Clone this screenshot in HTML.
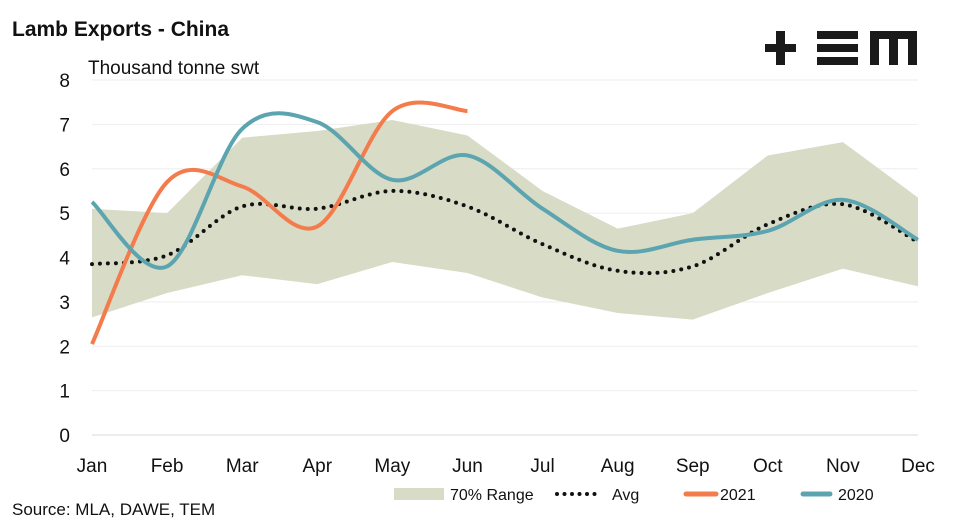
<!DOCTYPE html>
<html><head><meta charset="utf-8"><style>
body{margin:0;background:#fff;font-family:"Liberation Sans",sans-serif;}
svg text{font-family:"Liberation Sans",sans-serif;fill:#111;}
</style></head><body>
<svg id="c" width="954" height="527">
<text x="12" y="36" font-size="21" font-weight="bold">Lamb Exports - China</text>
<text x="88" y="74" font-size="19">Thousand tonne swt</text>
<text x="12" y="515" font-size="17">Source: MLA, DAWE, TEM</text>
<g fill="#1a1a1a">
<rect x="765" y="44" width="31" height="8"/><rect x="776" y="31" width="9" height="34"/>
<rect x="817" y="31" width="41" height="8"/><rect x="817" y="44" width="41" height="8"/><rect x="817" y="57" width="41" height="8"/>
<rect x="870" y="31" width="47" height="8"/><rect x="870" y="31" width="9" height="34"/><rect x="889" y="31" width="9" height="34"/><rect x="908" y="31" width="9" height="34"/>
</g>
<g id="grid"></g><g id="marks"></g><g id="axes"></g>
<g>
<rect x="394" y="488" width="50" height="12" fill="#d8dbc5"/>
<text x="450" y="500" font-size="16">70% Range</text>
<line x1="557" y1="494" x2="602" y2="494" stroke="#111" stroke-width="4" stroke-dasharray="0 7.5" stroke-linecap="round"/>
<text x="612" y="500" font-size="16">Avg</text>
<line x1="686" y1="494" x2="716" y2="494" stroke="#f47c4c" stroke-width="5" stroke-linecap="round"/>
<text x="720" y="500" font-size="16">2021</text>
<line x1="803" y1="494" x2="830" y2="494" stroke="#5ba4b0" stroke-width="5" stroke-linecap="round"/>
<text x="838" y="500" font-size="16">2020</text>
</g>
</svg>
<script>
const months=["Jan","Feb","Mar","Apr","May","Jun","Jul","Aug","Sep","Oct","Nov","Dec"];
const yTicks=[0,1,2,3,4,5,6,7,8];
const rangeHigh=[5.1,5.0,6.7,6.85,7.1,6.75,5.5,4.65,5.0,6.3,6.6,5.35];
const rangeLow=[2.65,3.2,3.6,3.4,3.9,3.65,3.1,2.75,2.6,3.2,3.75,3.35];
const avg=[3.85,4.05,5.15,5.1,5.5,5.15,4.3,3.7,3.8,4.75,5.2,4.35];
const y2021=[2.05,5.7,5.6,4.7,7.3,7.3];
const y2020=[5.25,3.8,6.9,7.05,5.75,6.3,5.1,4.15,4.4,4.6,5.3,4.4];
const NS="http://www.w3.org/2000/svg";
const X=i=>92+i*(918-92)/11, Y=v=>435-v*(435-80)/8;
function mk(t,a,p){const e=document.createElementNS(NS,t);for(const k in a)e.setAttribute(k,a[k]);p.appendChild(e);return e;}
const grid=document.getElementById('grid'),marks=document.getElementById('marks'),axes=document.getElementById('axes');
yTicks.forEach(v=>{
 if(v>0){const g=mk('line',{x1:92,x2:918,y1:Y(v),y2:Y(v),stroke:'#eeeeee','stroke-width':1},grid);
 
 }
 const t=mk('text',{x:70,y:Y(v)+7,'font-size':19,'text-anchor':'end'},axes);t.textContent=v;
 
 
});
const base=mk('line',{x1:92,x2:918,y1:Y(0),y2:Y(0),stroke:'#d9d9d9'},axes);


months.forEach((m,i)=>{const t=mk('text',{x:X(i),y:472,'font-size':19,'text-anchor':'middle'},axes);t.textContent=m;
 
 });
let pts=rangeHigh.map((v,i)=>X(i)+','+Y(v)).concat(rangeLow.map((v,i)=>[i,v]).reverse().map(([i,v])=>X(i)+','+Y(v)));
const band=mk('polygon',{points:pts.join(' '),fill:'#d8dbc5'},marks);


function smooth(arr){const p=arr.map((v,i)=>[X(i),Y(v)]);let d='M'+p[0];
 for(let i=0;i<p.length-1;i++){const p0=p[i-1]||p[i],p1=p[i],p2=p[i+1],p3=p[i+2]||p2;
 const c1=[p1[0]+(p2[0]-p0[0])/6,p1[1]+(p2[1]-p0[1])/6],c2=[p2[0]-(p3[0]-p1[0])/6,p2[1]-(p3[1]-p1[1])/6];
 d+=' C'+c1+' '+c2+' '+p2;}return d;}
const a=mk('path',{d:smooth(avg),fill:'none',stroke:'#111','stroke-width':4,'stroke-dasharray':'0 8','stroke-linecap':'round'},marks);


const l21=mk('path',{d:smooth(y2021),fill:'none',stroke:'#f47c4c','stroke-width':4},marks);


const l20=mk('path',{d:smooth(y2020),fill:'none',stroke:'#5ba4b0','stroke-width':4},marks);


</script>
</body></html>
